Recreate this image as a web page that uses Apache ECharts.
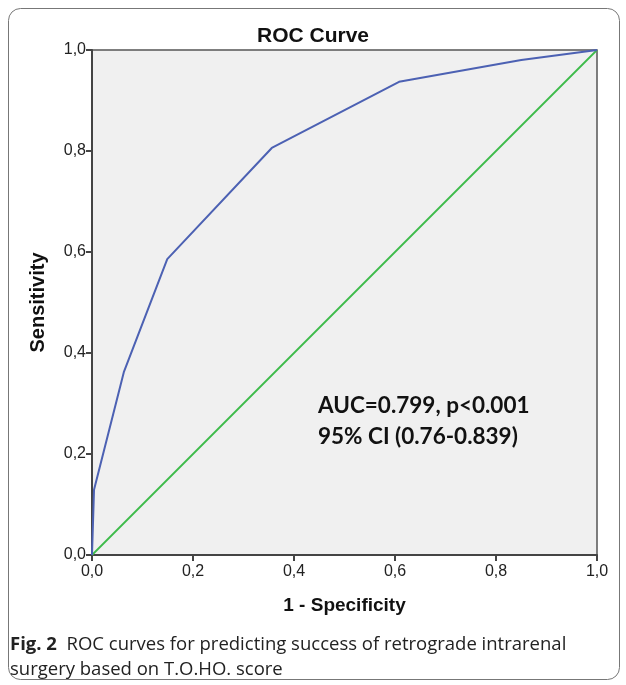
<!DOCTYPE html>
<html>
<head>
<meta charset="utf-8">
<script src="https://cdn.jsdelivr.net/npm/echarts@6/dist/echarts.min.js"></script>
<style>
  html, body { margin: 0; padding: 0; background: #fff; }
  #chart { width: 626px; height: 685px; }
</style>
</head>
<body>
<div id="chart"></div>
<script>
// ROC curve points (1 - specificity, sensitivity)
const fpr = [0, 0.004, 0.063, 0.149, 0.356, 0.608, 0.85, 1];
const tpr = [0, 0.129, 0.362, 0.586, 0.806, 0.937, 0.98, 1];
const refLine = [[0, 0], [1, 1]];

const chart = echarts.init(document.getElementById('chart'));

const fmt = function (v) { return v.toFixed(1).replace('.', ','); };

const option = {
  animation: false,
  title: {
    text: 'ROC Curve',
    left: 'center',
    top: 21,
    textStyle: { fontFamily: 'Liberation Sans', fontSize: 21, fontWeight: 'bold', color: '#111' }
  },
  grid: {
    left: 92, right: 29, top: 50, bottom: 130,
    show: true,
    backgroundColor: '#f0f0f0',
    borderColor: '#555',
    borderWidth: 1.5
  },
  xAxis: {
    type: 'value', min: 0, max: 1, interval: 0.2,
    name: '1 - Specificity',
    nameLocation: 'middle',
    nameGap: 41,
    nameTextStyle: { fontFamily: 'Liberation Sans', fontSize: 19, fontWeight: 'bold', color: '#111' },
    axisLine: { show: true, lineStyle: { color: '#444', width: 2 } },
    axisTick: { show: true, length: 6, lineStyle: { color: '#444', width: 2 } },
    axisLabel: { formatter: fmt, fontFamily: 'Liberation Sans', fontSize: 16, color: '#222', margin: 9 },
    splitLine: { show: false }
  },
  yAxis: {
    type: 'value', min: 0, max: 1, interval: 0.2,
    name: 'Sensitivity',
    nameLocation: 'middle',
    nameGap: 44,
    nameTextStyle: { fontFamily: 'Liberation Sans', fontSize: 20, fontWeight: 'bold', color: '#111' },
    axisLine: { show: true, lineStyle: { color: '#444', width: 2 } },
    axisTick: { show: true, length: 6, lineStyle: { color: '#444', width: 2 } },
    axisLabel: { formatter: fmt, fontFamily: 'Liberation Sans', fontSize: 16, color: '#222', margin: 6 },
    splitLine: { show: false }
  },
  graphic: [
    {
      type: 'rect',
      shape: { x: 8.5, y: 8.5, width: 611, height: 671, r: 12 },
      style: { fill: 'none', stroke: '#777', lineWidth: 1 },
      silent: true
    },
    {
      type: 'text', left: 318, top: 394,
      style: { text: 'AUC=0.799, p<0.001', fontFamily: 'Lato', fontWeight: 'bold', fontSize: 22.5, fill: '#111' }
    },
    {
      type: 'text', left: 318, top: 425,
      style: { text: '95% CI (0.76-0.839)', fontFamily: 'Lato', fontWeight: 'bold', fontSize: 22.5, fill: '#111' }
    },
    {
      type: 'text', left: 10, top: 635,
      style: {
        rich: {
          b: { fontFamily: 'Open Sans', fontWeight: 'bold', fontSize: 18.5, fill: '#222' },
          n: { fontFamily: 'Open Sans', fontSize: 18.5, fill: '#222' }
        },
        text: '{b|Fig. 2}{n|  ROC curves for predicting success of retrograde intrarenal}',
        fill: '#222'
      }
    },
    {
      type: 'text', left: 10, top: 660,
      style: { text: 'surgery based on T.O.HO. score', fontFamily: 'Open Sans', fontSize: 18.5, fill: '#222' }
    }
  ],
  series: [
    {
      type: 'line',
      data: refLine,
      symbol: 'none',
      lineStyle: { color: '#3dbb4a', width: 1.8 },
      z: 2
    },
    {
      type: 'line',
      data: fpr.map(function (x, i) { return [x, tpr[i]]; }),
      symbol: 'none',
      lineStyle: { color: '#4c61b3', width: 2 },
      z: 3
    }
  ]
};

chart.setOption(option);
</script>
</body>
</html>
